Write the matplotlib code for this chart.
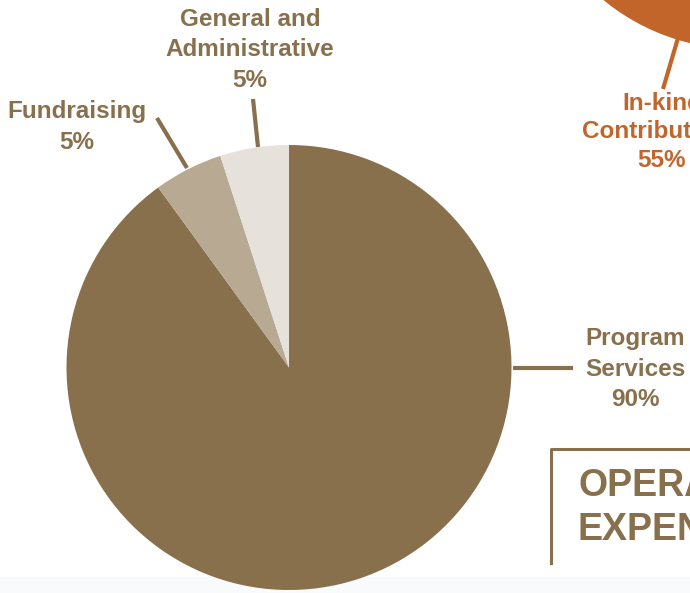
import matplotlib.pyplot as plt
from matplotlib.patches import Rectangle

# operating expenses (main pie)
exp_labels = ['Program\nServices', 'Fundraising', 'General and\nAdministrative']
exp_values = [90, 5, 5]
exp_colors = ['#89704C', '#B8A993', '#E6E1DB']

# revenue pie, mostly off the page: only the in-kind slice shows
rev_labels = ['In-kind\nContributions', 'Other']
rev_values = [55, 45]
rev_colors = ['#C1652A', '#D9905E']

title = 'OPERATING\nEXPENSES'

brown = '#89704C'
orange = '#C1652A'

fig = plt.figure(figsize=(6.9, 5.93), dpi=100)
ax = fig.add_axes([0, 0, 1, 1])
ax.set_xlim(0, 690)
ax.set_ylim(593, 0)
ax.axis('off')

# faint band along the bottom
ax.add_patch(Rectangle((0, 577), 690, 16, color='#F8FAFC', zorder=0))

# y runs downwards here, so angles are mirrored:
# revenue pie, centre above the top right corner
ax.pie(rev_values, colors=rev_colors, center=(740, -166), radius=215,
       startangle=-154, counterclock=False, frame=True,
       wedgeprops=dict(linewidth=0))
# main pie, clockwise from the top (as seen)
ax.pie(exp_values, colors=exp_colors, center=(289, 367.5), radius=222.5,
       startangle=-90, counterclock=True, frame=True,
       wedgeprops=dict(linewidth=0))

# pie() resets limits, put the pixel frame back
ax.set_xlim(0, 690)
ax.set_ylim(593, 0)
ax.set_aspect('equal')
ax.axis('off')

font = dict(family=['Liberation Sans', 'DejaVu Sans'], fontweight='bold',
            fontsize=17.5, ha='center', va='center', linespacing=1.4)

# leaders
ax.plot([513, 573], [368, 368], color=brown, lw=3, solid_capstyle='butt')
ax.plot([187, 157], [168, 118], color=brown, lw=3, solid_capstyle='butt')
ax.plot([258, 253], [147, 99], color=brown, lw=3, solid_capstyle='butt')
ax.plot([678, 663], [38, 89], color=orange, lw=3, solid_capstyle='butt')

ax.text(635, 369, f'{exp_labels[0]}\n{exp_values[0]}%', color=brown, **font)
ax.text(77, 127, f'{exp_labels[1]}\n{exp_values[1]}%', color=brown, **font)
ax.text(250, 50, f'{exp_labels[2]}\n{exp_values[2]}%', color=brown, **font)
ax.text(662, 132, f'{rev_labels[0]}\n{rev_values[0]}%', color=orange,
        **{**font, 'linespacing': 1.32})

# title box, cut off at the right edge
ax.plot([551, 551, 700], [563, 449, 449], color=brown, lw=2.2)
ax.text(578, 508, title, color=brown, family=['Liberation Sans', 'DejaVu Sans'],
        fontweight='bold', fontsize=27, ha='left', va='center', linespacing=1.3)

fig.savefig('out.png', dpi=100)
